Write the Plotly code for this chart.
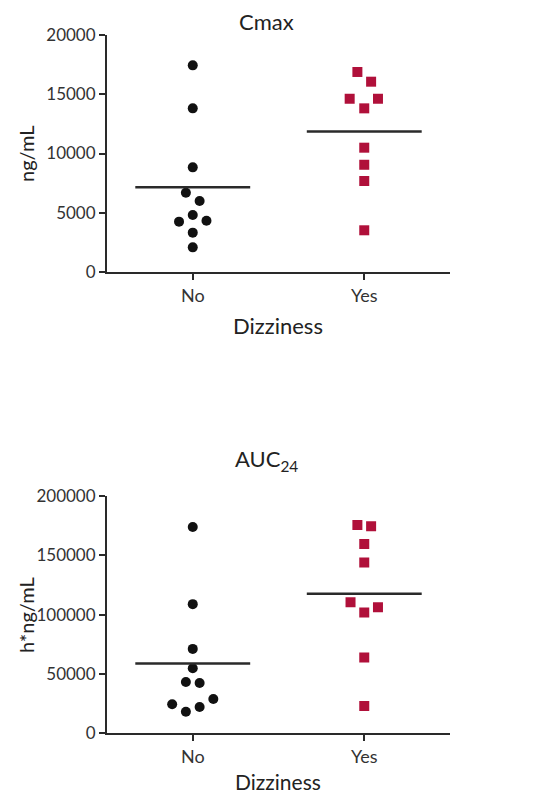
import numpy as np
import plotly.graph_objects as go

categories = ["No", "Yes"]

cmax_no = [17440, 13810, 8830, 6690, 5990, 4810, 4250, 4330, 3320, 2080]
cmax_no_jitter = [0, 0, 0, -0.04, 0.04, 0, -0.08, 0.08, 0, 0]
cmax_yes = [16880, 16060, 14620, 14620, 13810, 10490, 9050, 7680, 3520]
cmax_yes_jitter = [-0.04, 0.04, -0.085, 0.08, 0, 0, 0, 0, 0]

auc_no = [173840, 108860, 71140, 54850, 43290, 42450, 24470, 28940, 22190, 18230]
auc_no_jitter = [0, 0, 0, 0, -0.04, 0.04, -0.12, 0.12, 0.04, -0.04]
auc_yes = [175530, 174400, 159490, 143960, 110550, 106330, 101830, 63800, 23040]
auc_yes_jitter = [-0.04, 0.04, 0, 0, -0.08, 0.08, 0, 0, 0]

cmax_ticks = [0, 5000, 10000, 15000, 20000]
auc_ticks = [0, 50000, 100000, 150000, 200000]

FONT = "Lato"
DARK = "#2a2a2a"
RED = "#b0103a"

fig = go.Figure()

def add_panel(no_vals, no_jit, yes_vals, yes_jit, xa, ya):
    fig.add_trace(go.Scatter(
        x=[0 + j for j in no_jit], y=no_vals, mode="markers",
        marker=dict(symbol="circle", size=10, color="#111111"),
        xaxis=xa, yaxis=ya, showlegend=False))
    fig.add_trace(go.Scatter(
        x=[1 + j for j in yes_jit], y=yes_vals, mode="markers",
        marker=dict(symbol="square", size=10, color=RED),
        xaxis=xa, yaxis=ya, showlegend=False))
    for i, vals in enumerate([no_vals, yes_vals]):
        m = float(np.mean(vals))
        fig.add_trace(go.Scatter(
            x=[i - 0.335, i + 0.335], y=[m, m], mode="lines",
            line=dict(color=DARK, width=2.5),
            xaxis=xa, yaxis=ya, showlegend=False))

add_panel(cmax_no, cmax_no_jitter, cmax_yes, cmax_yes_jitter, "x", "y")
add_panel(auc_no, auc_no_jitter, auc_yes, auc_yes_jitter, "x2", "y2")

# page has an 8px body margin; figure is sized to fit the window
OFF = 8
W, H = 544 - OFF, 796 - OFF

def fx(X):
    return (X - OFF) / W

def fy(Y):
    return (H - (Y - OFF)) / H

xdom = [fx(107), fx(450)]
ydom_top = [fy(272), fy(35)]
ydom_bot = [fy(733.3), fy(496)]

xcommon = dict(range=[-0.5, 1.5], tickvals=[0, 1], ticktext=categories,
               showgrid=False, zeroline=False, showline=True, linecolor=DARK,
               linewidth=2, ticks="outside", ticklen=6, tickwidth=2, tickcolor=DARK,
               automargin=False,
               tickfont=dict(family=FONT, size=18, color="#333333"), domain=xdom)

def ycommon(rng, ticks, dom, anchor):
    return dict(range=rng, tickvals=ticks, ticktext=[str(t) for t in ticks],
                showgrid=False, zeroline=False, automargin=False,
                showline=True, linecolor=DARK, linewidth=2, ticks="outside",
                ticklen=6, tickwidth=2, tickcolor=DARK,
                tickfont=dict(family=FONT, size=17, color="#333333"),
                domain=dom, anchor=anchor)

fig.update_layout(
    template="none",
    width=W, height=H, margin=dict(l=0, r=0, t=0, b=0, pad=0, autoexpand=False),
    paper_bgcolor="white", plot_bgcolor="white", showlegend=False,
    xaxis=dict(**xcommon, anchor="y"),
    yaxis=ycommon([0, 20000], cmax_ticks, ydom_top, "x"),
    xaxis2=dict(**xcommon, anchor="y2"),
    yaxis2=ycommon([0, 200000], auc_ticks, ydom_bot, "x2"),
)

def ann(text, X, Y, size, angle=0):
    fig.add_annotation(text=text, x=fx(X), y=fy(Y), xref="paper", yref="paper",
                       showarrow=False, textangle=angle, xanchor="center", yanchor="middle",
                       font=dict(family=FONT, size=size, color="#222222"))

ann("Cmax", 266, 22, 22)
ann("ng/mL", 26, 154, 20, -90)
ann("Dizziness", 278, 325, 22)
ann("AUC<sub>24</sub>", 266, 460, 22)
ann("h*ng/mL", 26, 615, 20, -90)
ann("Dizziness", 278, 781, 21)

fig.write_html("out.html")
